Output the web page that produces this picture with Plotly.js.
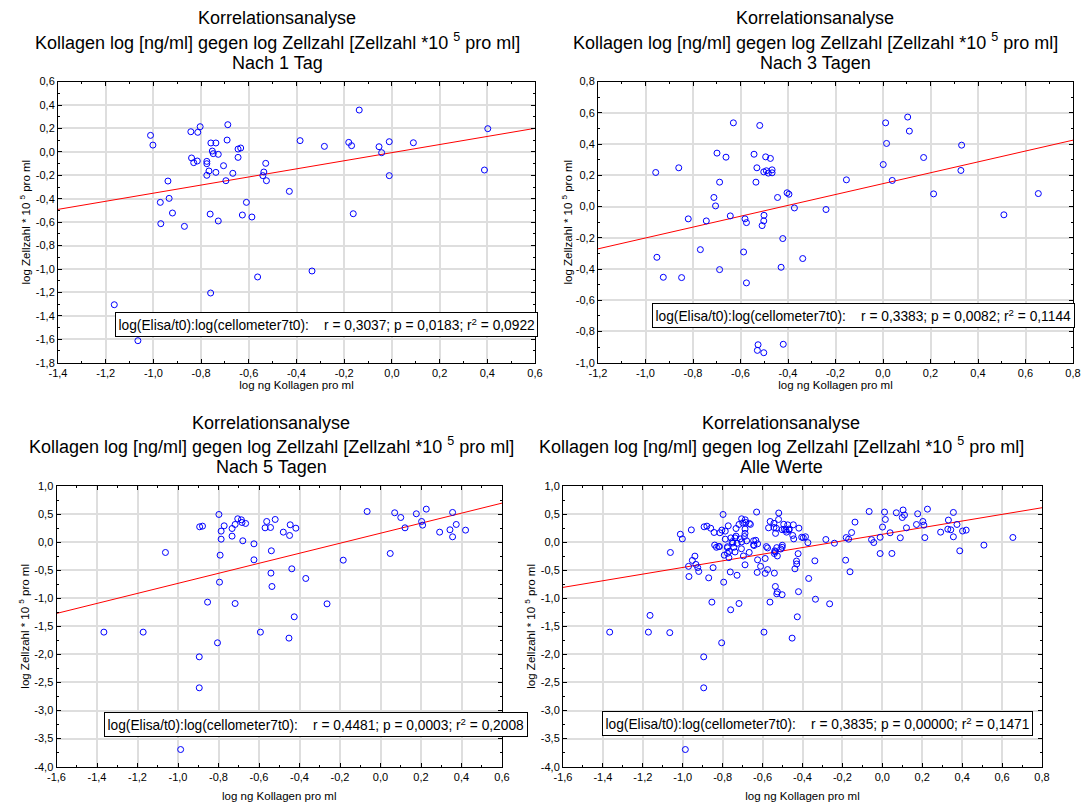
<!DOCTYPE html>
<html>
<head>
<meta charset="utf-8">
<script src="https://cdn.plot.ly/plotly-3.0.1.min.js"></script>
<style>html,body{margin:0;padding:0;background:#fff;}#chart{width:1086px;height:805px;}</style>
</head>
<body>
<div id="chart"></div>
<script>
// ---------- Data ----------
// Nach 1 Tag
const tag1X = [-1.012,-1.002,-0.843,-0.804,-0.814,-0.688,-0.691,-0.759,-0.738,-0.753,-0.749,-0.728,-0.645,-0.634,-0.645,-0.840,-0.831,-0.816,-0.776,-0.776,-0.706,-0.767,-0.738,-0.776,-0.667,-0.696,-0.529,-0.537,-0.541,-0.526,-0.939,-0.971,-0.934,-0.920,-0.969,-0.870,-0.762,-0.728,-0.627,-0.610,-0.587,-0.563,-0.760,-1.164,-1.065,-0.430,-0.385,-0.137,-0.283,-0.181,-0.169,-0.054,-0.011,-0.043,0.090,-0.011,-0.162,-0.335,0.402,0.388];
const tag1Y = [0.141,0.058,0.172,0.215,0.167,0.232,0.101,0.076,0.076,0.007,-0.015,-0.021,0.024,0.033,-0.047,-0.052,-0.092,-0.078,-0.081,-0.101,-0.118,-0.163,-0.175,-0.200,-0.183,-0.246,-0.098,-0.172,-0.203,-0.246,-0.249,-0.431,-0.397,-0.522,-0.613,-0.636,-0.531,-0.590,-0.539,-0.431,-0.556,-1.068,-1.205,-1.305,-1.612,-0.337,0.096,0.357,0.047,0.081,0.053,0.044,0.087,-0.007,0.078,-0.203,-0.528,-1.017,0.198,-0.155];
// Nach 3 Tagen
const tag3X = [-0.957,-0.860,-0.952,-0.925,-0.848,-0.820,-0.769,-0.744,-0.699,-0.661,-0.688,-0.712,-0.705,-0.688,-0.643,-0.630,-0.519,-0.543,-0.531,-0.535,-0.494,-0.474,-0.502,-0.491,-0.483,-0.467,-0.467,-0.581,-0.575,-0.587,-0.575,-0.501,-0.502,-0.509,-0.444,-0.404,-0.396,-0.373,-0.422,-0.429,-0.338,-0.526,-0.529,-0.502,-0.420,-0.240,-0.154,0.011,0.104,0.111,0.015,0.001,0.039,0.171,0.213,0.331,0.328,0.509,0.654];
const tag3Y = [0.218,0.248,-0.325,-0.453,-0.455,-0.079,-0.276,-0.092,0.342,0.316,0.156,0.058,0.004,-0.404,-0.060,0.536,0.519,0.335,0.248,0.156,0.318,0.308,0.222,0.229,0.214,0.235,0.216,-0.079,-0.103,-0.291,-0.489,-0.056,-0.092,-0.122,0.058,0.088,0.079,-0.009,-0.205,-0.389,-0.333,-0.885,-0.921,-0.936,-0.882,-0.019,0.171,0.536,0.573,0.483,0.404,0.269,0.167,0.314,0.081,0.393,0.231,-0.053,0.083];
// Nach 5 Tagen
const tag5X = [-1.366,-1.172,-1.062,-0.987,-0.895,-0.895,-0.893,-0.879,-0.854,-0.805,-0.798,-0.787,-0.787,-0.792,-0.795,-0.772,-0.733,-0.733,-0.718,-0.705,-0.687,-0.684,-0.666,-0.680,-0.718,-0.625,-0.625,-0.593,-0.570,-0.562,-0.543,-0.520,-0.539,-0.541,-0.536,-0.480,-0.446,-0.449,-0.418,-0.438,-0.369,-0.426,-0.452,-0.264,-0.184,-0.066,0.048,0.070,0.100,0.121,0.177,0.203,0.208,0.226,0.292,0.343,0.356,0.374,0.356,0.420];
const tag5Y = [-1.603,-1.603,-0.184,-3.694,-2.043,-2.595,0.273,0.285,-1.069,-1.793,0.493,0.196,0.053,-0.232,-0.713,0.291,0.243,0.107,0.315,0.416,0.398,0.350,0.333,0.024,-1.093,-0.030,-0.315,-1.603,0.255,0.368,0.261,0.404,-0.154,-0.552,-0.790,0.178,0.309,0.119,0.249,-0.475,-0.647,-1.330,-1.710,-1.099,-0.321,0.546,-0.202,0.523,0.439,0.255,0.505,0.368,0.303,0.588,0.178,0.220,0.529,0.315,0.095,0.214];
// Alle Werte = all three days together
const alleX = tag1X.concat(tag3X, tag5X);
const alleY = tag1Y.concat(tag3Y, tag5Y);

// Regression lines (end points)
const fit1X = [-1.4, 0.6],  fit1Y = [-0.491, 0.201];
const fit3X = [-1.2, 0.8],  fit3Y = [-0.271, 0.425];
const fit5X = [-1.6, 0.6],  fit5Y = [-1.27, 0.695];
const fitAX = [-1.6, 0.8],  fitAY = [-0.806, 0.613];

// Tick labels
const xTicks1 = ['-1,4','-1,2','-1,0','-0,8','-0,6','-0,4','-0,2','0,0','0,2','0,4','0,6'];
const yTicks1 = ['-1,8','-1,6','-1,4','-1,2','-1,0','-0,8','-0,6','-0,4','-0,2','0,0','0,2','0,4','0,6'];
const xTicks2 = ['-1,2','-1,0','-0,8','-0,6','-0,4','-0,2','0,0','0,2','0,4','0,6','0,8'];
const yTicks2 = ['-1,0','-0,8','-0,6','-0,4','-0,2','0,0','0,2','0,4','0,6','0,8'];
const xTicks3 = ['-1,6','-1,4','-1,2','-1,0','-0,8','-0,6','-0,4','-0,2','0,0','0,2','0,4','0,6'];
const yTicks3 = ['-4,0','-3,5','-3,0','-2,5','-2,0','-1,5','-1,0','-0,5','0,0','0,5','1,0'];
const xTicks4 = ['-1,6','-1,4','-1,2','-1,0','-0,8','-0,6','-0,4','-0,2','0,0','0,2','0,4','0,6','0,8'];
const yTicks4 = yTicks3;

// Texts
const titleLine1 = 'Korrelationsanalyse';
const titleLine2 = 'Kollagen log [ng/ml] gegen log Zellzahl [Zellzahl *10 <sup>5</sup> pro ml]';
const panelNames = ['Nach 1 Tag','Nach 3 Tagen','Nach 5 Tagen','Alle Werte'];
const xTitle = 'log ng Kollagen pro ml';
const yTitle = 'log Zellzahl * 10 <sup>5</sup> pro ml';
const statLabel = 'log(Elisa/t0):log(cellometer7t0):';
const statR  = ['0,3037','0,3383','0,4481','0,3835'];
const statP  = ['0,0183','0,0082','0,0003','0,00000'];
const statR2 = ['0,0922','0,1144','0,2008','0,1471'];

// ---------- Layout helpers ----------
const W = 1086, H = 805;
const px = v => v / W;
const py = v => 1 - v / H;
const num = s => parseFloat(s.replace(',', '.'));
const FONT = 'Liberation Sans, Arial, sans-serif';

function axis(domain, range, labels, minorStep, anchor, title, standoff) {
  return {
    domain: domain, range: range, anchor: anchor,
    tickmode: 'array', tickvals: labels.map(num), ticktext: labels,
    ticks: 'inside', ticklen: 4, tickcolor: '#000', tickwidth: 1,
    showline: true, linecolor: '#000', linewidth: 1, mirror: 'allticks',
    showgrid: true, gridcolor: '#dedede', gridwidth: 2, zeroline: false,
    minor: {dtick: minorStep, tick0: 0, ticks: 'inside', ticklen: 2, tickcolor: '#000', showgrid: false},
    tickfont: {size: 11, family: FONT, color: '#000'},
    title: {text: title, font: {size: 11.5, family: FONT, color: '#000'}, standoff: standoff},
    fixedrange: true
  };
}

const panels = [
  {x: tag1X, y: tag1Y, fx: fit1X, fy: fit1Y, xd: [58, 535],  yd: [81.6, 362.7], xr: [-1.4, 0.6], yr: [-1.8, 0.6], xt: xTicks1, yt: yTicks1, ym: 0.1,  tc: 277, ty: [18, 41, 63],   box: [114.5, 312], xs: 0,  ys: 2},
  {x: tag3X, y: tag3Y, fx: fit3X, fy: fit3Y, xd: [598, 1073], yd: [81.6, 362.7], xr: [-1.2, 0.8], yr: [-1.0, 0.8], xt: xTicks2, yt: yTicks2, ym: 0.1,  tc: 815, ty: [18, 41, 63],   box: [651.5, 303], xs: 0,  ys: 0},
  {x: tag5X, y: tag5Y, fx: fit5X, fy: fit5Y, xd: [56.5, 502], yd: [486, 766.7],  xr: [-1.6, 0.6], yr: [-4.0, 1.0], xt: xTicks3, yt: yTicks3, ym: 0.25, tc: 271, ty: [423, 445, 467], box: [104, 712], xs: 10, ys: 2},
  {x: alleX, y: alleY, fx: fitAX, fy: fitAY, xd: [563, 1042], yd: [486, 766.7],  xr: [-1.6, 0.8], yr: [-4.0, 1.0], xt: xTicks4, yt: yTicks4, ym: 0.25, tc: 781, ty: [423, 445, 467], box: [602, 711], xs: 10, ys: 2}
];

const traces = [];
const layout = {
  width: W, height: H, margin: {l: 0, r: 0, t: 0, b: 0},
  paper_bgcolor: '#fff', plot_bgcolor: '#fff', showlegend: false,
  font: {family: FONT, color: '#000', size: 11},
  annotations: []
};

panels.forEach((p, i) => {
  const n = i === 0 ? '' : String(i + 1);
  const xa = 'x' + n, ya = 'y' + n;
  traces.push({type: 'scatter', mode: 'lines', x: p.fx, y: p.fy, xaxis: xa, yaxis: ya,
    line: {color: '#ff0000', width: 1}, hoverinfo: 'skip'});
  traces.push({type: 'scatter', mode: 'markers', x: p.x, y: p.y, xaxis: xa, yaxis: ya,
    marker: {symbol: 'circle-open', size: 6, color: '#0000ff', line: {width: 1, color: '#0000ff'}}});
  layout['xaxis' + n] = axis([px(p.xd[0]), px(p.xd[1])], p.xr, p.xt, 0.1, ya, xTitle, p.xs);
  layout['yaxis' + n] = axis([py(p.yd[1]), py(p.yd[0])], p.yr, p.yt, p.ym, xa, yTitle, p.ys);
  const lines = [titleLine1, titleLine2, panelNames[i]];
  lines.forEach((t, k) => {
    layout.annotations.push({
      xref: 'paper', yref: 'paper', x: px(p.tc), y: py(p.ty[k]), xanchor: 'center', yanchor: 'middle',
      text: t, showarrow: false, font: {size: 18, family: FONT, color: '#000'}
    });
  });
  layout.annotations.push({
    xref: 'paper', yref: 'paper', x: px(p.box[0]), y: py(p.box[1]), xanchor: 'left', yanchor: 'top',
    text: statLabel + '\u00a0\u00a0\u00a0 r = ' + statR[i] + '; p = ' + statP[i] + '; r<sup>2</sup> = ' + statR2[i],
    showarrow: false, align: 'left', bgcolor: '#fff', bordercolor: '#000', borderwidth: 1, borderpad: 2.5,
    font: {size: 13.75, family: FONT, color: '#000'}
  });
});

Plotly.newPlot('chart', traces, layout, {staticPlot: true, displayModeBar: false});
</script>
</body>
</html>
